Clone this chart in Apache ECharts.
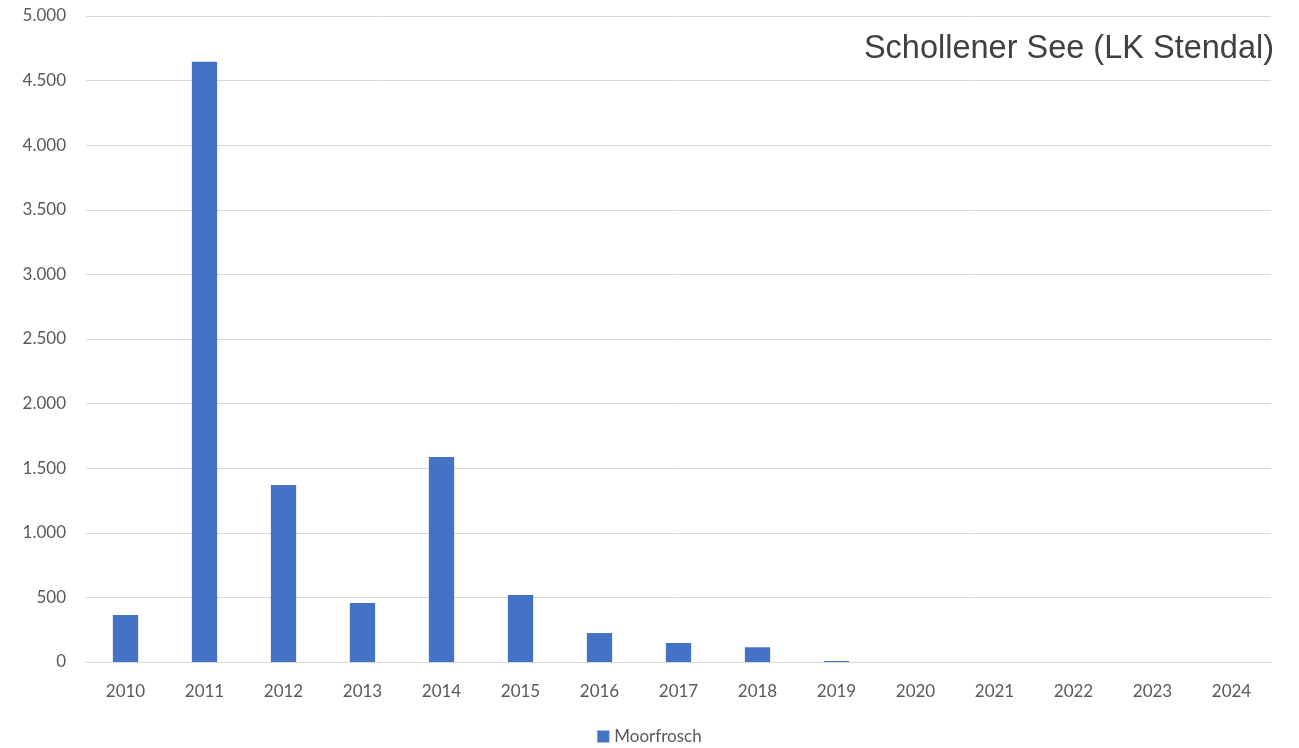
<!DOCTYPE html>
<html>
<head>
<meta charset="utf-8">
<script src="https://cdn.jsdelivr.net/npm/echarts@6/dist/echarts.min.js"></script>
<style>
  html, body { margin: 0; padding: 0; background: #fff; }
  #chart { width: 1299px; height: 748px; }
</style>
</head>
<body>
<div id="chart"></div>
<script>
const years = ['2010', '2011', '2012', '2013', '2014', '2015', '2016', '2017', '2018', '2019', '2020', '2021', '2022', '2023', '2024']
const moorfrosch = [364, 4645, 1370, 457, 1587, 519, 224, 147, 114, 8, 0, 0, 0, 0, 0]
const chartTitle = 'Schollener See (LK Stendal)'
const seriesName = 'Moorfrosch'

const chart = echarts.init(document.getElementById('chart'))

function formatThousands(v) {
  return String(v).replace(/\B(?=(\d{3})+(?!\d))/g, '.')
}

const option = {
  animation: false,
  title: {
    text: chartTitle,
    right: 20,
    top: 28,
    textStyle: {
      fontFamily: 'Liberation Sans',
      fontSize: 32.5,
      fontWeight: 'normal',
      color: '#404040'
    }
  },
  legend: {
    bottom: -2,
    left: 'center',
    itemWidth: 12,
    itemHeight: 12,
    icon: 'rect',
    textStyle: {
      fontFamily: 'Lato',
      fontSize: 17,
      color: '#595959'
    },
    data: [seriesName]
  },
  grid: {
    left: 86,
    right: 28,
    top: 16,
    bottom: 86,
    containLabel: false
  },
  xAxis: {
    type: 'category',
    data: years,
    axisLine: { show: true, lineStyle: { color: '#d9d9d9' } },
    axisTick: { show: false },
    axisLabel: {
      fontFamily: 'Lato',
      fontSize: 17,
      color: '#595959',
      margin: 21
    }
  },
  yAxis: {
    type: 'value',
    min: 0,
    max: 5000,
    interval: 500,
    axisLine: { show: false },
    axisTick: { show: false },
    splitLine: { lineStyle: { color: '#d9d9d9', width: 1 } },
    axisLabel: {
      fontFamily: 'Lato',
      fontSize: 17,
      color: '#595959',
      margin: 20,
      formatter: formatThousands
    }
  },
  series: [{
    name: seriesName,
    type: 'bar',
    data: moorfrosch,
    barWidth: '32%',
    itemStyle: { color: '#4472c4' }
  }]
}

chart.setOption(option)
</script>
</body>
</html>
